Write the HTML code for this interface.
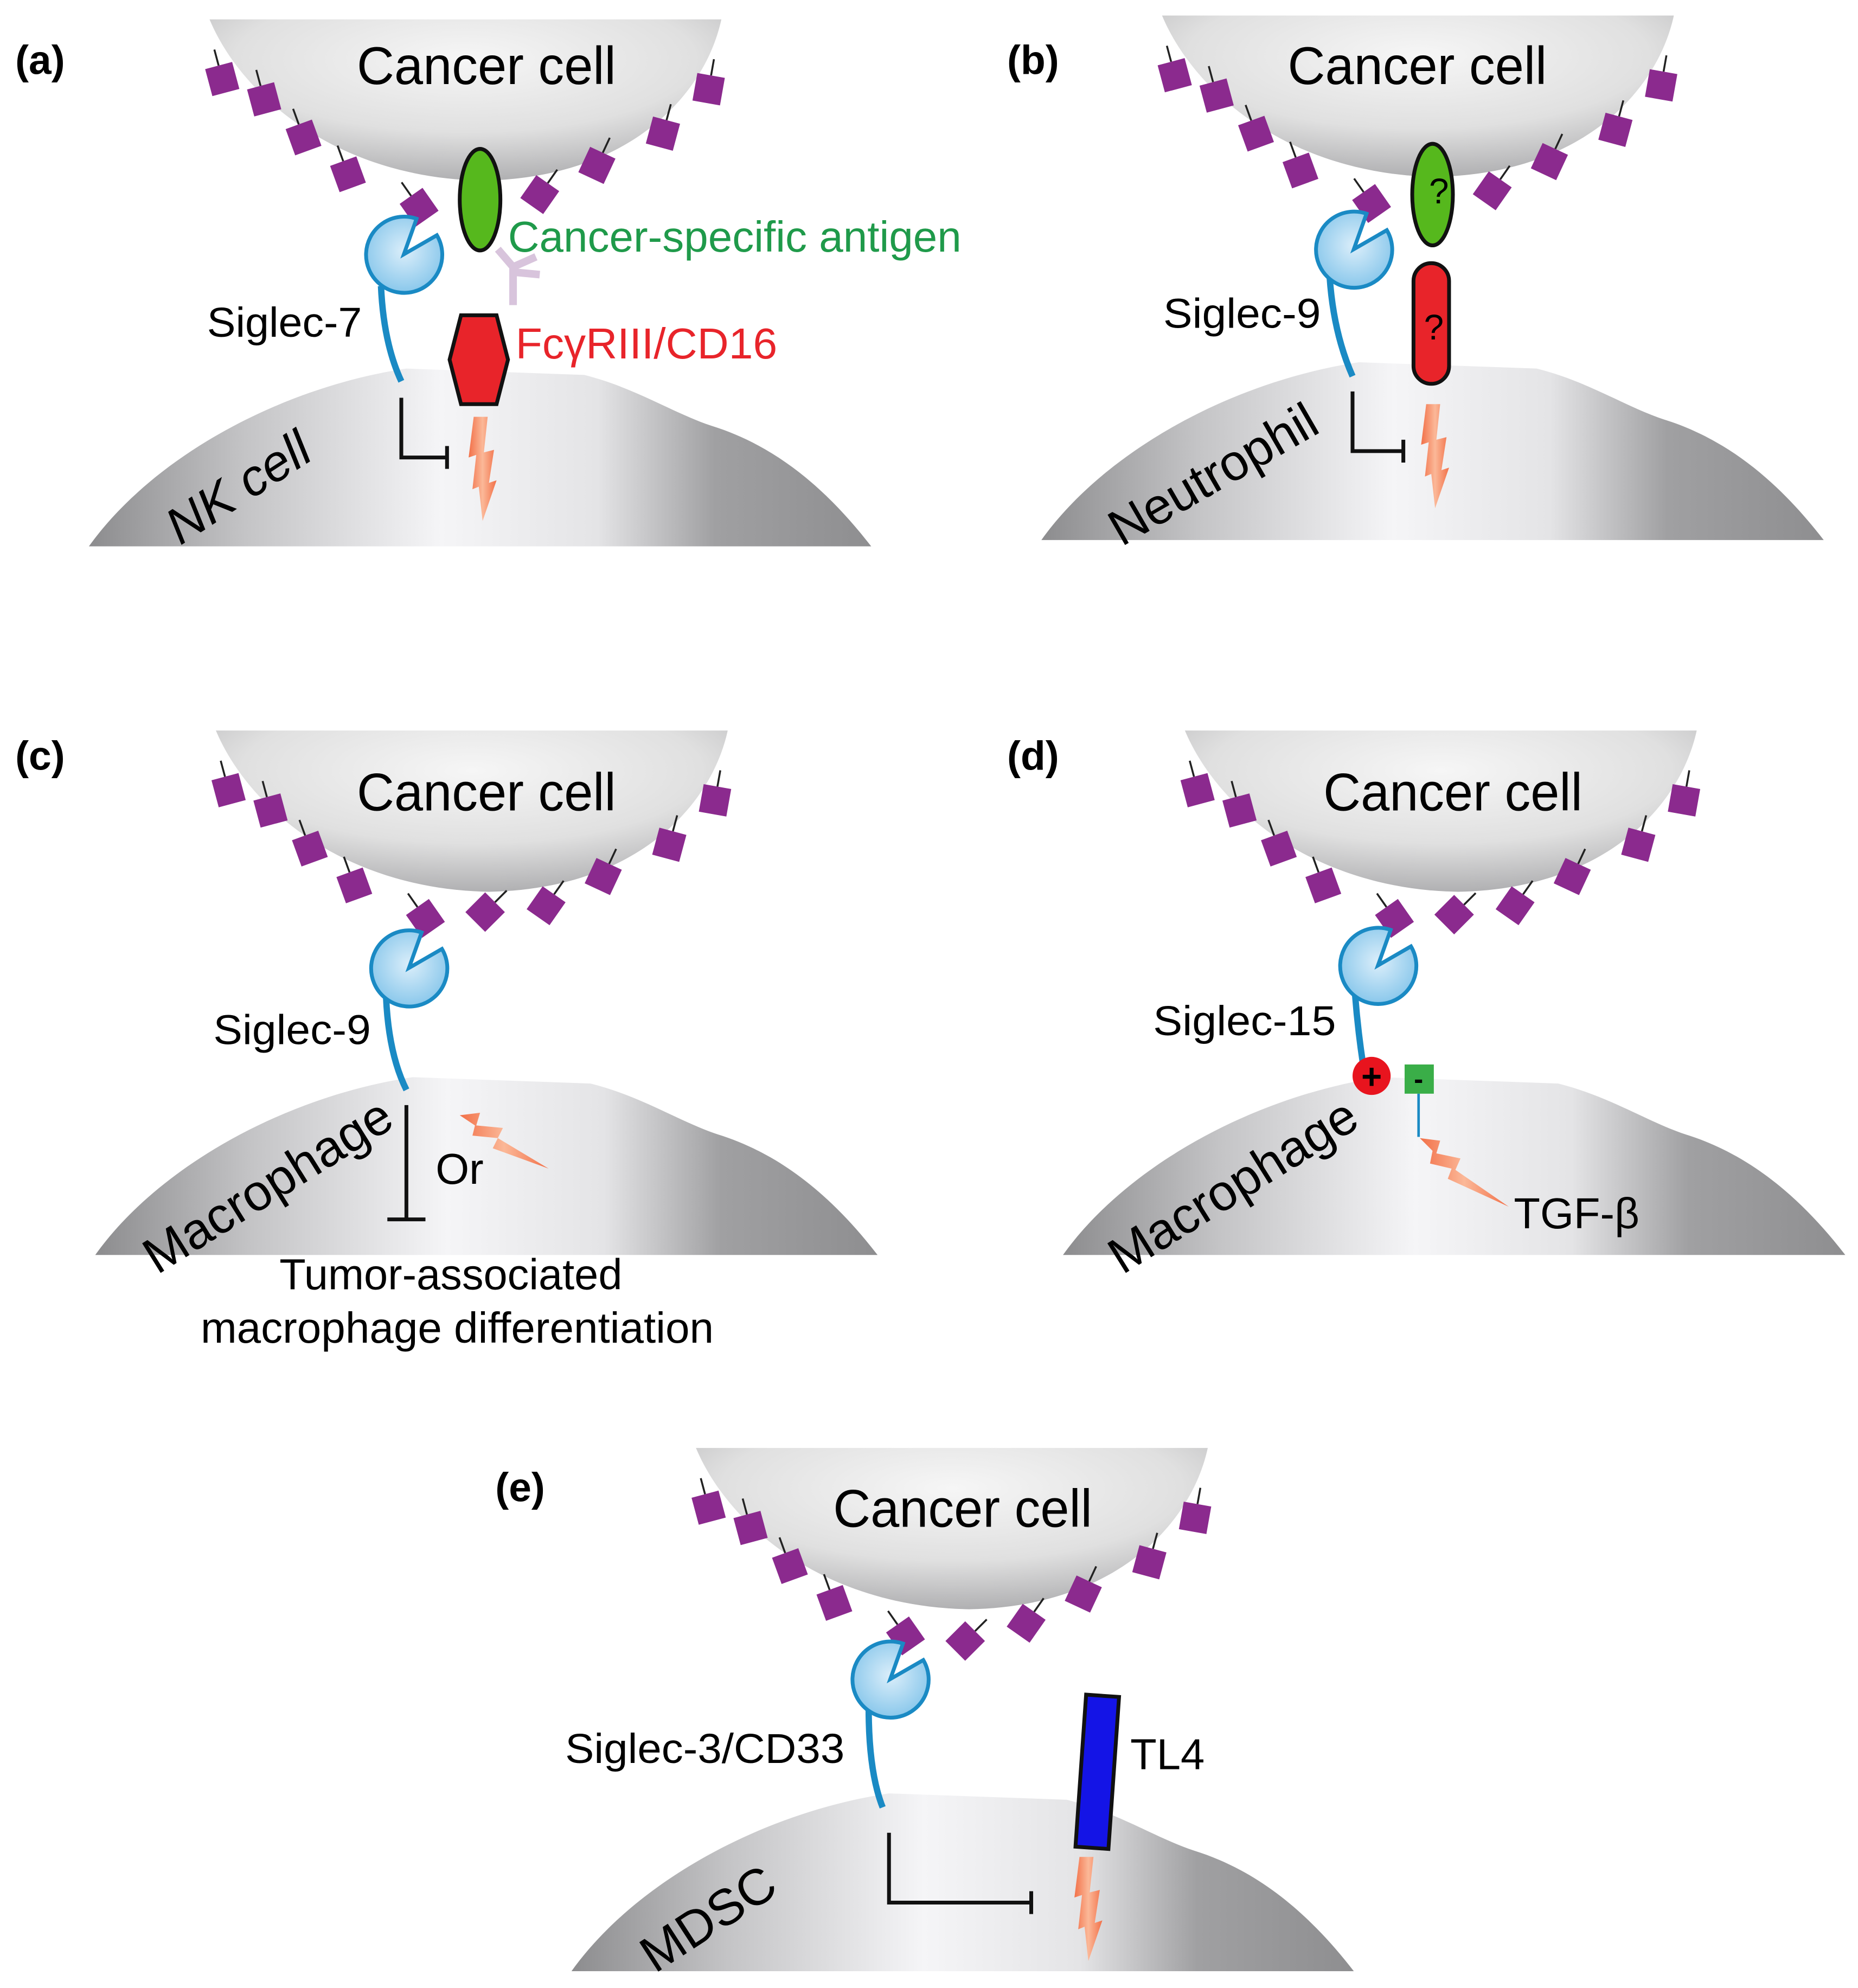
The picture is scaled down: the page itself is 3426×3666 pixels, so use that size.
<!DOCTYPE html>
<html><head><meta charset="utf-8"><style>html,body{margin:0;padding:0;background:#fff}svg{display:block}</style></head>
<body>
<svg width="3426" height="3666" viewBox="0 0 1463 1565" xmlns="http://www.w3.org/2000/svg" font-family="Liberation Sans, Arial, sans-serif">
<defs>
<radialGradient id="cg" cx="0.5" cy="0.25" r="0.75">
<stop offset="0" stop-color="#f6f6f6"/><stop offset="0.6" stop-color="#e0e0e0"/><stop offset="1" stop-color="#b0b0b2"/>
</radialGradient>
<linearGradient id="ig" x1="0" y1="0" x2="1" y2="0">
<stop offset="0" stop-color="#8c8c8e"/><stop offset="0.2" stop-color="#c4c4c6"/><stop offset="0.45" stop-color="#f5f5f7"/><stop offset="0.65" stop-color="#e4e4e6"/><stop offset="0.8" stop-color="#a0a0a2"/><stop offset="1" stop-color="#8e8e90"/>
</linearGradient>
<radialGradient id="bg" cx="0.5" cy="0.45" r="0.6">
<stop offset="0" stop-color="#dbeefa"/><stop offset="1" stop-color="#82c4ea"/>
</radialGradient>
<linearGradient id="lg" x1="0" y1="0" x2="1" y2="0">
<stop offset="0" stop-color="#f27048"/><stop offset="0.5" stop-color="#fbb898"/><stop offset="1" stop-color="#f27048"/>
</linearGradient>
<g id="sq"><line x1="0" y1="-11" x2="0" y2="-24" stroke="#222" stroke-width="1.5"/><rect x="-11" y="-11" width="22" height="22" fill="#8b2a8e"/></g>
<g id="cancer">
<path d="M0,0 L403,0 C390,60 330,125 215,127 C100,125 25,60 0,0 Z" fill="url(#cg)"/>
<use href="#sq" transform="translate(10,47) rotate(-15)"/>
<use href="#sq" transform="translate(43,63) rotate(-15)"/>
<use href="#sq" transform="translate(74,93) rotate(-20)"/>
<use href="#sq" transform="translate(109,122) rotate(-20)"/>
<use href="#sq" transform="translate(165,148) rotate(-35)"/>
<use href="#sq" transform="translate(260,138) rotate(35)"/>
<use href="#sq" transform="translate(305,115) rotate(25)"/>
<use href="#sq" transform="translate(357,90) rotate(15)"/>
<use href="#sq" transform="translate(393,55) rotate(10)"/>
</g>
<path id="imm" d="M0,0 C50,-70 150,-125 250,-140 L390,-135 C430,-125 460,-105 490,-95 C545,-78 585,-40 616,0 Z" fill="url(#ig)"/>
<path id="sig" d="M0,0 L26,-15 A30,30 0 1,1 10,-28 Z" fill="url(#bg)" stroke="#1a8ac4" stroke-width="3"/>
<polygon id="bolt" points="-5,0 6,0 3,28 11,26 7,52 13,50 2,82 -1,55 -6,57 -3,30 -9,32" fill="url(#lg)"/>
</defs>

<!-- (a) -->
<use href="#imm" transform="translate(70,430)"/>
<use href="#cancer" transform="translate(165,15)"/>
<ellipse cx="378" cy="157" rx="16" ry="40" fill="#56b81d" stroke="#111" stroke-width="3"/>
<text x="12" y="58" font-size="32" font-weight="bold">(a)</text>
<text x="281" y="66" font-size="42" textLength="204" lengthAdjust="spacingAndGlyphs">Cancer cell</text>
<path d="M300,225 Q302,270 316,300" fill="none" stroke="#1a8ac4" stroke-width="5"/>
<use href="#sig" transform="translate(318,200)"/>
<path d="M392,196 L404,210 L404,240 M404,210 L422,202 M404,214 L425,216" fill="none" stroke="#d8c4dc" stroke-width="6"/>
<polygon points="363,248 391,248 400,283 391,318 363,318 354,283" fill="#e8242a" stroke="#111" stroke-width="3"/>
<use href="#bolt" transform="translate(378,328)"/>
<path d="M316,313 L316,360 L352,360 M352,351 L352,369" fill="none" stroke="#111" stroke-width="3"/>
<text x="400" y="198" font-size="34" fill="#1f9a4a" textLength="357" lengthAdjust="spacingAndGlyphs">Cancer-specific antigen</text>
<text x="406" y="282" font-size="34" fill="#e8242a" textLength="206" lengthAdjust="spacingAndGlyphs">FcγRIII/CD16</text>
<text x="163" y="265" font-size="33" textLength="122" lengthAdjust="spacingAndGlyphs">Siglec-7</text>
<text x="195" y="395" font-size="40" font-style="italic" transform="rotate(-33 195 395)" text-anchor="middle">NK cell</text>

<!-- (b) -->
<use href="#imm" transform="translate(820,425)"/>
<use href="#cancer" transform="translate(915,12)"/>
<ellipse cx="1128" cy="153" rx="16" ry="40" fill="#56b81d" stroke="#111" stroke-width="3"/>
<text x="1133" y="160" font-size="28" text-anchor="middle">?</text>
<text x="793" y="58" font-size="32" font-weight="bold">(b)</text>
<text x="1014" y="66" font-size="42" textLength="204" lengthAdjust="spacingAndGlyphs">Cancer cell</text>
<path d="M1047,218 Q1050,262 1065,296" fill="none" stroke="#1a8ac4" stroke-width="5"/>
<use href="#sig" transform="translate(1066,196)"/>
<rect x="1113" y="207" width="28" height="95" rx="14" fill="#e8242a" stroke="#111" stroke-width="3"/>
<text x="1129" y="267" font-size="28" text-anchor="middle">?</text>
<use href="#bolt" transform="translate(1128,318)"/>
<path d="M1065,308 L1065,355 L1105,355 M1105,346 L1105,364" fill="none" stroke="#111" stroke-width="3"/>
<text x="916" y="258" font-size="33" textLength="124" lengthAdjust="spacingAndGlyphs">Siglec-9</text>
<text x="962" y="385" font-size="40" transform="rotate(-30 962 385)" text-anchor="middle">Neutrophil</text>

<!-- (c) -->
<use href="#imm" transform="translate(75,988)"/>
<use href="#cancer" transform="translate(170,575)"/>
<use href="#sq" transform="translate(382,718) rotate(45)"/>
<text x="12" y="606" font-size="32" font-weight="bold">(c)</text>
<text x="281" y="638" font-size="42" textLength="204" lengthAdjust="spacingAndGlyphs">Cancer cell</text>
<path d="M304,785 Q306,830 320,858" fill="none" stroke="#1a8ac4" stroke-width="5"/>
<use href="#sig" transform="translate(322,762)"/>
<path d="M320,870 L320,960 M305,960 L335,960" fill="none" stroke="#111" stroke-width="3"/>
<polygon points="362,878 378,876 375,886 396,888 392,896 432,920 388,904 392,896 372,894 374,886" fill="url(#lg)"/>
<text x="343" y="932" font-size="34">Or</text>
<text x="168" y="822" font-size="33" textLength="124" lengthAdjust="spacingAndGlyphs">Siglec-9</text>
<text x="218" y="945" font-size="40" transform="rotate(-32 218 945)" text-anchor="middle">Macrophage</text>
<text x="355" y="1015" font-size="34" text-anchor="middle" textLength="270" lengthAdjust="spacingAndGlyphs">Tumor-associated</text>
<text x="360" y="1057" font-size="34" text-anchor="middle" textLength="404" lengthAdjust="spacingAndGlyphs">macrophage differentiation</text>

<!-- (d) -->
<use href="#imm" transform="translate(837,988)"/>
<use href="#cancer" transform="translate(933,575)"/>
<use href="#sq" transform="translate(1145,720) rotate(45)"/>
<text x="793" y="606" font-size="32" font-weight="bold">(d)</text>
<text x="1042" y="638" font-size="42" textLength="204" lengthAdjust="spacingAndGlyphs">Cancer cell</text>
<path d="M1067,783 Q1070,822 1077,860" fill="none" stroke="#1a8ac4" stroke-width="5"/>
<use href="#sig" transform="translate(1085,760)"/>
<circle cx="1080" cy="847" r="15" fill="#e8141e"/>
<text x="1080" y="857" font-size="28" text-anchor="middle" font-weight="bold">+</text>
<rect x="1106" y="838" width="23" height="23" fill="#3aae48"/>
<text x="1117" y="857" font-size="22" text-anchor="middle" font-weight="bold">-</text>
<line x1="1117" y1="861" x2="1117" y2="895" stroke="#1a8ac4" stroke-width="2"/>
<polygon points="1118,896 1134,898 1131,908 1150,912 1146,921 1188,950 1140,928 1143,920 1126,916 1128,906" fill="url(#lg)"/>
<text x="1192" y="967" font-size="34">TGF-β</text>
<text x="908" y="815" font-size="33" textLength="144" lengthAdjust="spacingAndGlyphs">Siglec-15</text>
<text x="978" y="945" font-size="40" transform="rotate(-32 978 945)" text-anchor="middle">Macrophage</text>

<!-- (e) -->
<use href="#imm" transform="translate(450,1552)"/>
<use href="#cancer" transform="translate(548,1140)"/>
<use href="#sq" transform="translate(760,1292) rotate(45)"/>
<text x="390" y="1182" font-size="32" font-weight="bold">(e)</text>
<text x="656" y="1202" font-size="42" textLength="204" lengthAdjust="spacingAndGlyphs">Cancer cell</text>
<path d="M684,1345 Q684,1395 695,1423" fill="none" stroke="#1a8ac4" stroke-width="5"/>
<use href="#sig" transform="translate(701,1322)"/>
<path d="M700,1443 L700,1498 L812,1498 M812,1489 L812,1507" fill="none" stroke="#111" stroke-width="3"/>
<rect x="-13" y="-60" width="26" height="120" fill="#1414e6" stroke="#111" stroke-width="3" transform="translate(864,1395) rotate(4)"/>
<use href="#bolt" transform="translate(855,1462)"/>
<text x="890" y="1393" font-size="34">TL4</text>
<text x="445" y="1388" font-size="33" textLength="220" lengthAdjust="spacingAndGlyphs">Siglec-3/CD33</text>
<text x="565" y="1522" font-size="40" transform="rotate(-33 565 1522)" text-anchor="middle">MDSC</text>
</svg>
</body></html>
